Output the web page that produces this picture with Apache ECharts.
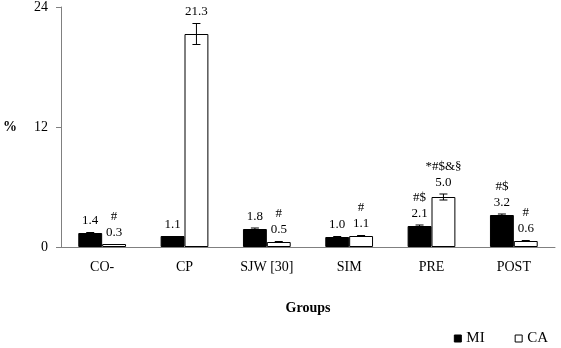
<!DOCTYPE html>
<html>
<head>
<meta charset="utf-8">
<script src="https://cdn.jsdelivr.net/npm/echarts@6/dist/echarts.min.js"></script>
<style>
html,body{margin:0;padding:0;background:#fff;}
#chart{width:561px;height:348px;}
</style>
</head>
<body>
<div id="chart"></div>
<script>
const categories = ['CO-', 'CP', 'SJW [30]', 'SIM', 'PRE', 'POST'];
const miValues = [1.4, 1.1, 1.8, 1.0, 2.1, 3.2];
const caValues = [0.3, 21.3, 0.5, 1.1, 5.0, 0.6];
const miErrors = [0.05, 0.03, 0.1, 0.05, 0.1, 0.1];
const caErrors = [0.02, 1.05, 0.05, 0.05, 0.3, 0.05];
const miMarks = ['', '', '', '', '#$', '#$'];
const caMarks = ['#', '', '#', '#', '*#$&§', '#'];
const yTicks = [0, 12, 24];

const FONT = 'Liberation Serif';
const GAP = 0.42;

const chart = echarts.init(document.getElementById('chart'), null, {renderer: 'canvas'});

function errRender(values, errors, marks, side) {
  return function (params, api) {
    const i = api.value(0);
    const v = values[i], e = errors[i];
    const c = api.coord([i, v]);
    const band = api.size([1, 0])[0];
    const bw = band * (1 - GAP) / 2;
    const x = c[0] + side * bw / 2;
    const top = api.coord([i, v + e])[1];
    const bot = api.coord([i, v - e])[1];
    const cap = 4;
    const children = [];
    if (e > 0.04) {
      children.push({type: 'line', shape: {x1: x, y1: top, x2: x, y2: bot}, style: {stroke: '#000', lineWidth: 1}});
      children.push({type: 'line', shape: {x1: x - cap, y1: top, x2: x + cap, y2: top}, style: {stroke: '#000', lineWidth: 1}});
      children.push({type: 'line', shape: {x1: x - cap, y1: bot, x2: x + cap, y2: bot}, style: {stroke: '#000', lineWidth: 1}});
    }
    children.push({type: 'text', style: {text: v.toFixed(1), x: x, y: top - 5, align: 'center', verticalAlign: 'bottom', fontFamily: FONT, fontSize: 13, fill: '#000'}});
    if (marks[i]) {
      children.push({type: 'text', style: {text: marks[i], x: x, y: top - 21, align: 'center', verticalAlign: 'bottom', fontFamily: FONT, fontSize: 13, fill: '#000'}});
    }
    return {type: 'group', children: children};
  };
}

chart.setOption({
  animation: false,
  backgroundColor: '#fff',
  textStyle: {fontFamily: FONT},
  grid: {left: 59, right: 6, top: 6, bottom: 101, containLabel: false},
  legend: {
    right: 8, top: 326,
    itemWidth: 7, itemHeight: 7, itemGap: 30,
    icon: 'rect',
    textStyle: {fontFamily: FONT, fontSize: 15, color: '#000'},
    data: [
      {name: 'MI', itemStyle: {color: '#000', borderColor: '#000', borderWidth: 1}},
      {name: 'CA', itemStyle: {color: '#fff', borderColor: '#000', borderWidth: 1}}
    ]
  },
  xAxis: {
    type: 'category',
    data: categories,
    name: 'Groups',
    nameLocation: 'middle',
    nameGap: 54,
    nameTextStyle: {fontFamily: FONT, fontSize: 14, fontWeight: 'bold', color: '#000'},
    axisLine: {lineStyle: {color: '#808080', width: 1}},
    axisTick: {show: false},
    axisLabel: {fontFamily: FONT, fontSize: 14, color: '#000', margin: 13}
  },
  yAxis: {
    type: 'value',
    min: yTicks[0], max: yTicks[yTicks.length - 1], interval: 12,
    name: '%',
    nameLocation: 'middle',
    nameRotate: 0,
    nameGap: 44,
    nameTextStyle: {fontFamily: FONT, fontSize: 14, fontWeight: 'bold', color: '#000'},
    axisLine: {show: true, lineStyle: {color: '#808080', width: 1}},
    axisTick: {show: true, length: 5, lineStyle: {color: '#808080'}},
    splitLine: {show: false},
    axisLabel: {fontFamily: FONT, fontSize: 14, color: '#000', margin: 13}
  },
  series: [
    {name: 'MI', type: 'bar', data: miValues, barGap: 0, barCategoryGap: '42%',
     itemStyle: {color: '#000', borderColor: '#000', borderWidth: 1}},
    {name: 'CA', type: 'bar', data: caValues, barGap: 0, barCategoryGap: '42%',
     itemStyle: {color: '#fff', borderColor: '#000', borderWidth: 1}},
    {type: 'custom', name: 'MI err', data: categories.map((c, i) => [i]),
     renderItem: errRender(miValues, miErrors, miMarks, -1), z: 5, silent: true},
    {type: 'custom', name: 'CA err', data: categories.map((c, i) => [i]),
     renderItem: errRender(caValues, caErrors, caMarks, 1), z: 5, silent: true}
  ]
});
</script>
</body>
</html>
